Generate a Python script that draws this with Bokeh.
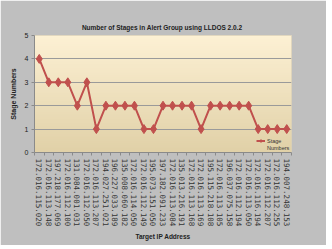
import numpy as np
from bokeh.plotting import figure
from bokeh.models import FixedTicker, Legend, LegendItem, Range1d
from bokeh.embed import file_html
from bokeh.resources import INLINE

ip_labels = [
    "172.016.115.020", "172.016.113.148", "197.218.177.069", "172.016.112.100",
    "131.084.001.031", "172.016.112.050", "172.016.113.207", "194.027.251.021",
    "196.227.033.189", "135.008.060.182", "172.016.114.050", "172.016.112.149",
    "195.073.151.050", "197.182.091.233", "172.016.113.084", "135.013.216.191",
    "172.016.113.168", "172.016.113.169", "195.115.218.108", "172.016.113.105",
    "196.037.075.158", "172.016.112.194", "172.016.113.050", "172.016.116.194",
    "172.016.112.207", "172.016.112.255", "194.007.248.153",
]
stage_numbers = [4, 3, 3, 3, 2, 3, 1, 2, 2, 2, 2, 1, 1, 2, 2, 2, 2, 1, 2, 2, 2, 2, 2, 1, 1, 1, 1]
y_ticks = [0, 1, 2, 3, 4, 5]
legend_words = ["Stage", "Numbers"]

xs = list(range(1, len(ip_labels) + 1))

W, H = 326, 245
BL, BR, BT, BB = 34, 35, 35, 93

p = figure(width=W, height=H, output_backend="svg", toolbar_location=None,
           x_range=Range1d(0.5, len(ip_labels) + 0.5), y_range=Range1d(0, 5),
           min_border_left=BL, min_border_right=BR, min_border_top=BT, min_border_bottom=BB,
           title="Number of Stages in Alert Group using  LLDOS 2.0.2")

p.border_fill_color = "#bfbfbf"
p.background_fill_color = "#f3e6c4"
p.outline_line_color = "#d8cfb8"

# vertical gradient background of the plot area
n = 64
img = np.zeros((n, 1), dtype=np.uint32)
view = img.view(dtype=np.uint8).reshape((n, 1, 4))
top = np.array([253, 241, 212])
bot = np.array([225, 209, 168])
for i in range(n):
    t = i / (n - 1)
    c = bot * (1 - t) + top * t
    view[i, 0, 0:3] = c.astype(np.uint8)
    view[i, 0, 3] = 255
p.image_rgba(image=[img], x=0.5, y=0, dw=len(ip_labels), dh=5, level="image")

# title
p.title.align = "center"
p.title.text_font = "Liberation Sans"
p.title.text_font_size = "6.5px"
p.title.text_font_style = "bold"
p.title.text_color = "#222222"
p.title.standoff = 10

# grid
p.xgrid.visible = False
p.ygrid.ticker = FixedTicker(ticks=y_ticks)
p.ygrid.grid_line_color = "#9a9a9a"
p.ygrid.grid_line_width = 1

# y axis
p.yaxis.ticker = FixedTicker(ticks=y_ticks)
p.yaxis.axis_label = "Stage Numbers"
p.yaxis.axis_label_text_font = "Liberation Sans"
p.yaxis.axis_label_text_font_size = "7px"
p.yaxis.axis_label_text_font_style = "bold"
p.yaxis.axis_label_text_color = "#222222"
p.yaxis.axis_label_standoff = 5
p.yaxis.major_label_text_font = "Liberation Sans"
p.yaxis.major_label_text_font_size = "7px"
p.yaxis.major_label_text_color = "#222222"
p.yaxis.major_label_standoff = 3
p.yaxis.major_tick_out = 3
p.yaxis.major_tick_in = 0
p.yaxis.minor_tick_line_color = None
p.yaxis.axis_line_color = "#8a8a8a"
p.yaxis.major_tick_line_color = "#8a8a8a"

# x axis
p.xaxis.ticker = FixedTicker(ticks=xs, minor_ticks=[x + 0.5 for x in range(0, len(ip_labels) + 1)])
p.xaxis.major_label_overrides = {x: lab for x, lab in zip(xs, ip_labels)}
p.xaxis.major_label_orientation = "vertical"
p.xaxis.major_label_text_font = "DejaVu Sans Mono"
p.xaxis.major_label_text_font_size = "7.5px"
p.xaxis.major_label_text_color = "#333333"
p.xaxis.major_label_standoff = 3
p.xaxis.major_tick_out = 0
p.xaxis.major_tick_in = 0
p.xaxis.minor_tick_out = 3
p.xaxis.minor_tick_in = 0
p.xaxis.minor_tick_line_color = "#8a8a8a"
p.xaxis.axis_line_color = "#8a8a8a"
p.xaxis.axis_label = "Target IP Address"
p.xaxis.axis_label_text_font = "Liberation Sans"
p.xaxis.axis_label_text_font_size = "6.5px"
p.xaxis.axis_label_text_font_style = "bold"
p.xaxis.axis_label_text_color = "#222222"
p.xaxis.axis_label_standoff = 4

line = p.line(xs, stage_numbers, line_color="#c0504d", line_width=2)
pts = p.scatter(xs, stage_numbers, marker="diamond", size=9,
                fill_color="#c0504d", line_color="#c0504d")
# transparent twin used only for the second line of the legend label
ghost = p.line(xs, stage_numbers, line_alpha=0)

frame_w = W - BL - BR
common = dict(background_fill_alpha=0, border_line_color=None,
              label_text_font="Liberation Sans", label_text_font_size="5.5px",
              label_text_color="#333333", glyph_width=9, glyph_height=7,
              label_standoff=2, padding=0, margin=0, spacing=0)
legend_a = Legend(items=[LegendItem(label=legend_words[0], renderers=[line, pts])],
                  location=(frame_w - 35, 8), **common)
legend_b = Legend(items=[LegendItem(label=legend_words[1], renderers=[ghost])],
                  location=(frame_w - 35, 1), **common)
p.add_layout(legend_a, "center")
p.add_layout(legend_b, "center")

open("out.html", "w").write(file_html(p, INLINE))
